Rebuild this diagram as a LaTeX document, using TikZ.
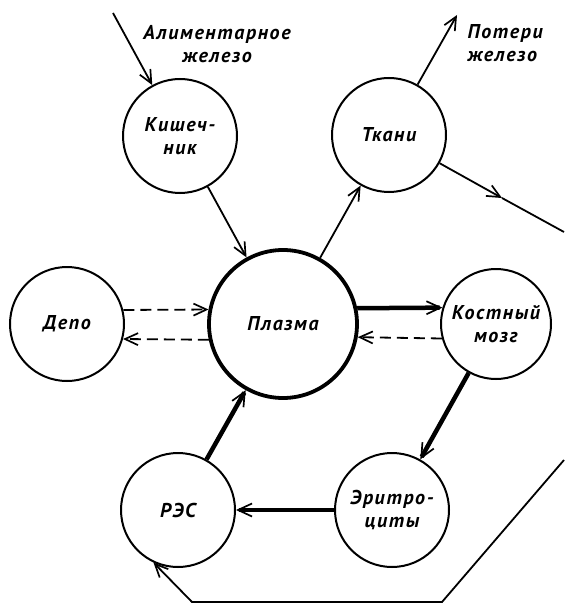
\documentclass[tikz,border=0pt]{standalone}
\usepackage{fontspec}
\setmainfont{PT Sans}[LetterSpace=8]
\usetikzlibrary{arrows.meta}
\newcommand\lblfont{\fontsize{20}{23}\selectfont\bfseries\itshape}
\tikzset{
  organ/.style={circle,draw,line width=2pt,minimum size=114pt,inner sep=0pt,align=center,font=\lblfont},
  flowline/.style={line width=1.8pt,-{Straight Barb[length=13pt,width=12pt,line width=1.7pt]}},
  boldflow/.style={line width=4.5pt,-{Straight Barb[length=14pt,width=13pt,line width=1.7pt]}},
  dashflow/.style={line width=1.8pt,dash pattern=on 11pt off 6pt,-{Straight Barb[length=13pt,width=12pt,line width=1.7pt]}}
}
\begin{document}
\begin{tikzpicture}[x=1pt,y=-1pt]
  \useasboundingbox (0,0) rectangle (564,604);

  % organs
  \node[organ] (kishechnik) at (180,136) {Кишеч-\\ник};
  \node[organ] (tkani) at (389,135) {Ткани};
  \node[organ,line width=3.8pt,minimum size=148pt] (plasma) at (283,324) {Плазма};
  \node[organ] (depo) at (67,324) {Депо};
  \node[organ,minimum size=110pt] (kmozg) at (496,324) {Костный\\мозг};
  \node[organ] (eritro) at (392,510) {Эритро-\\циты};
  \node[organ] (res) at (178,510) {РЭС};

  % texts
  \node[font=\lblfont,align=center] (alimtext) at (217,44) {Алиментарное\\железо};
  \node[font=\lblfont,align=left,anchor=west] (potertext) at (464,43) {Потери\\железо};

  % free ends
  \coordinate (alim) at (113,13);
  \coordinate (poteri) at (457,15);
  \coordinate (tmid) at (502,198);
  \coordinate (outR) at (564,232);
  \coordinate (outBR) at (564,460);
  \coordinate (cornerB) at (442,602);
  \coordinate (cornerL) at (192,602);

  \draw[flowline] (alim) -- (kishechnik);
  \draw[flowline] (tkani) -- (poteri);
  \draw[flowline] (tkani) -- (tmid);
  \draw[line width=1.8pt] (tmid) -- (outR);
  \draw[flowline] (kishechnik) -- (plasma);
  \draw[flowline] (plasma) -- (tkani);

  % depo
  \draw[dashflow] (depo.14.5) -- (plasma.169.1);
  \draw[dashflow] (plasma.-168.3) -- (depo.-15.5);

  % bone marrow
  \draw[boldflow] (plasma.12.5) -- (kmozg.163.1);
  \draw[dashflow] (kmozg.-165.2) -- (plasma.-10.9);

  % cycle
  \draw[boldflow] (kmozg) -- (eritro);
  \draw[boldflow] (eritro) -- (res);
  \draw[boldflow] (res) -- (plasma);
  \draw[flowline] (outBR) -- (cornerB) -- (cornerL) -- (res.245);
\end{tikzpicture}
\end{document}
